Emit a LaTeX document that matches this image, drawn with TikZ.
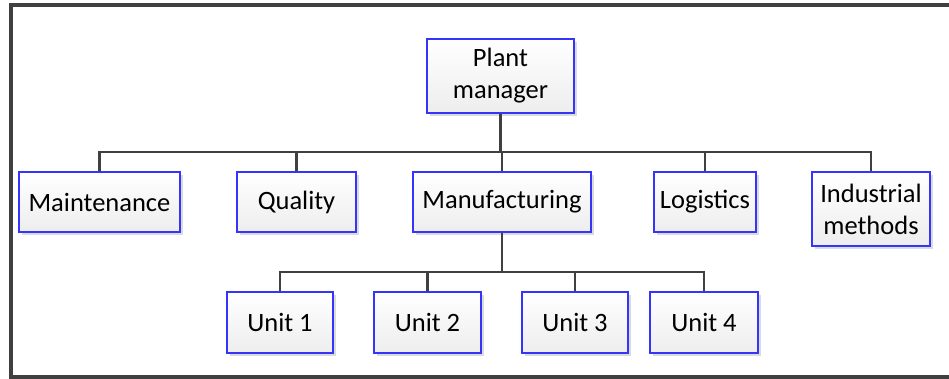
\documentclass[tikz,border=0pt]{standalone}
\usepackage{fontspec}
\setmainfont{Carlito}
\usetikzlibrary{shadows}
\definecolor{boxblue}{RGB}{52,52,250}
\definecolor{linegray}{RGB}{64,64,64}
\begin{document}
\begin{tikzpicture}[x=1pt,y=-1pt,
  orgbox/.style={draw=boxblue, line width=1.8pt, top color=white, bottom color=black!7,
    text=black, font=\fontsize{26.5}{32}\selectfont, align=center, inner sep=0pt,
    drop shadow={shadow xshift=3pt, shadow yshift=-3pt, fill=black!25, opacity=.55}},
  trunk/.style={draw=linegray, line width=2.8pt},
  branch/.style={draw=linegray, line width=2.2pt}
]
\useasboundingbox (0,0) rectangle (949,378);
\clip (0,0) rectangle (949,378);
\fill[white] (0,0) rectangle (949,378);
% outer frame (runs past the right and bottom edges)
\draw[draw=linegray, line width=3.6pt] (11,5) rectangle (1000,377);

% boxes
\node[orgbox, minimum width=147, minimum height=74] (pm) at (500.5,76) {Plant\\manager};
\node[orgbox, minimum width=161, minimum height=60] (maint) at (99.5,202) {Maintenance};
\node[orgbox, minimum width=119, minimum height=60] (qual) at (296.5,202) {Quality};
\node[orgbox, minimum width=178, minimum height=60] (manu) at (502,202) {Manufacturing};
\node[orgbox, minimum width=102, minimum height=60] (logi) at (705,202) {Logistics};
\node[orgbox, minimum width=118, minimum height=74] (indm) at (871,209) {Industrial\\methods};
\node[orgbox, minimum width=106, minimum height=61] (u1) at (280,322.5) {Unit 1};
\node[orgbox, minimum width=107, minimum height=61] (u2) at (427.5,322.5) {Unit 2};
\node[orgbox, minimum width=106, minimum height=61] (u3) at (575,322.5) {Unit 3};
\node[orgbox, minimum width=108, minimum height=61] (u4) at (704,322.5) {Unit 4};

% bus coordinates
\coordinate (busA) at (501.5,152);
\coordinate (busB) at (502,272);

% plant manager to departments
\draw[trunk] (pm.south) -- (pm.south |- busA);
\draw[branch] (maint.north) |- (busA);
\draw[branch] (busA) -| (indm.north);
\draw[branch] (qual.north) -- (qual.north |- busA);
\draw[branch] (logi.north) -- (logi.north |- busA);
\draw[trunk] (manu.north) -- (manu.north |- busA);
\draw[trunk] (maint.north |- busA) -- (busA);

% manufacturing to units
\draw[trunk] (manu.south) -- (busB);
\draw[branch] (u1.north) |- (busB);
\draw[branch] (busB) -| (u4.north);
\draw[branch] (u2.north) -- (u2.north |- busB);
\draw[branch] (u3.north) -- (u3.north |- busB);
\end{tikzpicture}
\end{document}
